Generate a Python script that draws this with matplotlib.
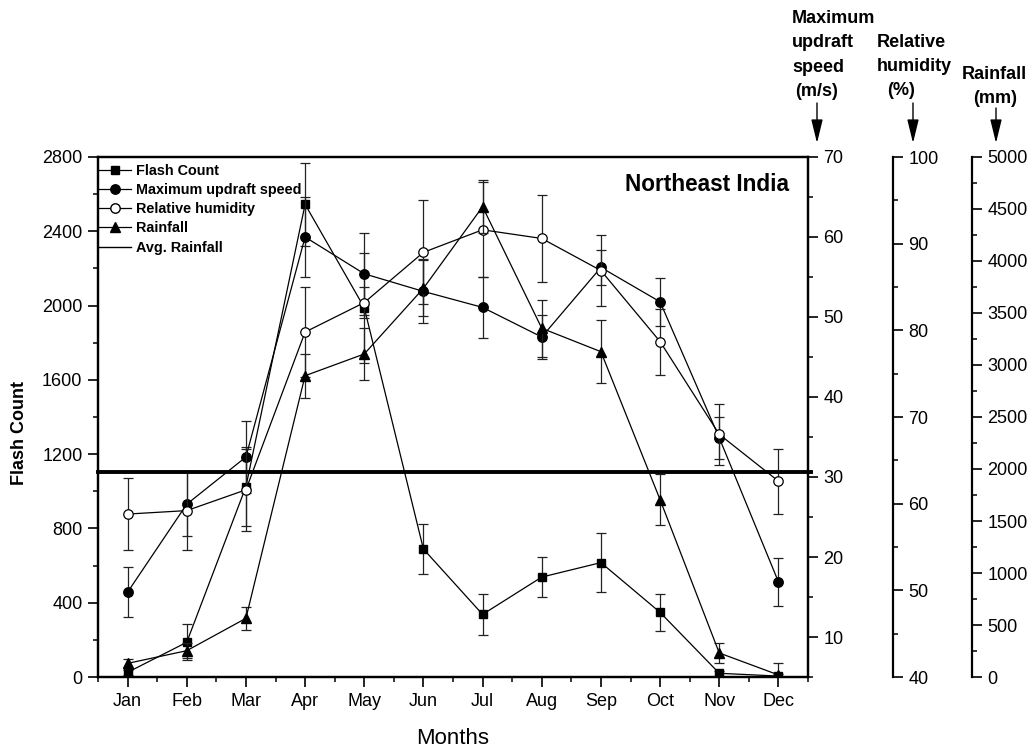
import numpy as np
import matplotlib
matplotlib.use("Agg")
import matplotlib.pyplot as plt
from matplotlib.lines import Line2D
from matplotlib.ticker import MultipleLocator

plt.rcParams['font.family'] = ['Liberation Sans', 'DejaVu Sans']

# ---------------- data ----------------
months = ['Jan', 'Feb', 'Mar', 'Apr', 'May', 'Jun', 'Jul', 'Aug', 'Sep', 'Oct', 'Nov', 'Dec']

flash_count = [25, 187, 1025, 2545, 1989, 689, 337, 538, 616, 348, 20, 5]
flash_err = [15, 98, 212, 225, 296, 137, 110, 107, 160, 98, 15, 10]

updraft = [15.6, 26.6, 32.5, 60.0, 55.4, 53.2, 51.2, 47.5, 56.2, 51.9, 34.9, 16.9]
updraft_err = [3.1, 4.0, 4.5, 5.0, 5.1, 4.0, 3.8, 2.8, 2.2, 3.0, 2.6, 3.0]

rel_humidity = [58.8, 59.2, 61.6, 79.8, 83.2, 89.0, 91.6, 90.6, 86.9, 78.7, 68.0, 62.6]
rh_err = [4.2, 4.6, 4.7, 5.2, 1.8, 6.0, 5.5, 5.0, 4.1, 3.8, 3.5, 3.75]

rainfall = [131, 253, 564, 2897, 3106, 3737, 4522, 3353, 3128, 1705, 231, 20]
rain_err = [45, 70, 109, 213, 250, 270, 257, 275, 305, 245, 97, 110]

avg_rainfall = 1975

flash_ticks = [0, 400, 800, 1200, 1600, 2000, 2400, 2800]
updraft_ticks = [10, 20, 30, 40, 50, 60, 70]
rh_ticks = [40, 50, 60, 70, 80, 90, 100]
rain_ticks = [0, 500, 1000, 1500, 2000, 2500, 3000, 3500, 4000, 4500, 5000]

# ---------------- figure ----------------
W, H = 1035, 752
fig = plt.figure(figsize=(W / 100, H / 100), dpi=100)
L, R, T, B = 98, 808, 157, 677
ax = fig.add_axes([L / W, 1 - B / H, (R - L) / W, (B - T) / H])

x = np.arange(1, len(months) + 1)

eb_kw = dict(color='k', lw=0.9, ecolor='#222222', elinewidth=0.9, capsize=3.6, capthick=0.9)

ax.errorbar(x, flash_count, yerr=flash_err, fmt='-s', ms=6.2, zorder=3, **eb_kw)

ax_up = ax.twinx()
ax_up.errorbar(x, updraft, yerr=updraft_err, fmt='-o', ms=6.8, zorder=3, **eb_kw)

ax_rh = ax.twinx()
ax_rh.spines['right'].set_position(('axes', (893 - L) / (R - L)))
ax_rh.errorbar(x, rel_humidity, yerr=rh_err, fmt='-o', ms=6.8, mfc='white', mec='k',
               mew=0.9, zorder=3, **eb_kw)

ax_rf = ax.twinx()
ax_rf.spines['right'].set_position(('axes', (972 - L) / (R - L)))
ax_rf.errorbar(x, rainfall, yerr=rain_err, fmt='-^', ms=7.8, zorder=3, **eb_kw)
ax_rf.axhline(avg_rainfall, xmin=0, xmax=1.004, color='k', lw=2.8, clip_on=False, zorder=4)

# limits
ax.set_xlim(0.5, 12.5)
ax.set_ylim(0, 2800)
ax_up.set_ylim(5, 70)
ax_rh.set_ylim(40, 100)
ax_rf.set_ylim(0, 5000)

# ticks
ax.set_xticks(x)
ax.set_xticklabels(months)
ax.xaxis.set_minor_locator(MultipleLocator(0.5))
ax.set_yticks(flash_ticks)
ax.yaxis.set_minor_locator(MultipleLocator(200))
ax_up.set_yticks(updraft_ticks)
ax_up.yaxis.set_minor_locator(MultipleLocator(5))
ax_rh.set_yticks(rh_ticks)
ax_rh.yaxis.set_minor_locator(MultipleLocator(5))
ax_rf.set_yticks(rain_ticks)
ax_rf.yaxis.set_minor_locator(MultipleLocator(250))

ax.xaxis.set_ticks_position('bottom')
ax.yaxis.set_ticks_position('left')

for a in (ax, ax_up, ax_rh, ax_rf):
    a.tick_params(which='major', direction='out', length=7.2, width=1.2, labelsize=13,
                  pad=4, colors='k')
    a.tick_params(which='minor', direction='out', length=3.8, width=1.1)
    for s in a.spines.values():
        s.set_linewidth(1.6)

for a in (ax_rh, ax_rf):
    for side in ('left', 'top', 'bottom'):
        a.spines[side].set_visible(False)

# labels
ax.set_ylabel('Flash Count', fontsize=13, fontweight='bold')
ax.yaxis.set_label_coords((28 - L) / (R - L), 0.47)
ax.set_xlabel('Months', fontsize=16)
ax.xaxis.set_label_coords(0.5, (B - 728) / (B - T))

ax.text((789 - L) / (R - L), (B - 185) / (B - T), 'Northeast India', transform=ax.transAxes,
        ha='right', va='center', fontsize=16.3, fontweight='bold')

# legend
handles = [
    Line2D([], [], color='k', lw=0.9, marker='s', ms=6.2),
    Line2D([], [], color='k', lw=0.9, marker='o', ms=6.8),
    Line2D([], [], color='k', lw=0.9, marker='o', ms=6.8, mfc='white'),
    Line2D([], [], color='k', lw=0.9, marker='^', ms=7.8),
    Line2D([], [], color='k', lw=1.0),
]
labels = ['Flash Count', 'Maximum updraft speed', 'Relative humidity', 'Rainfall', 'Avg. Rainfall']
leg = ax.legend(handles, labels, loc='upper left', bbox_to_anchor=(0.0, 0.987),
                frameon=False, borderpad=0.0, borderaxespad=0.0, handlelength=2.3,
                handletextpad=0.3, labelspacing=0.36, prop={'size': 10.4, 'weight': 'bold'})
leg.set_zorder(10)

# right axis titles with arrows
def ftext(px, py, s, **kw):
    fig.text(px / W, 1 - py / H, s, fontsize=13, fontweight='bold', ha='left', va='baseline', **kw)

ftext(792, 22.7, 'Maximum')
ftext(792, 46.7, 'updraft')
ftext(792, 71.7, 'speed')
ftext(795, 96.5, '(m/s)')
ftext(877, 46.7, 'Relative')
ftext(877, 70.7, 'humidity')
ftext(887, 95.0, '(%)')
ftext(962, 79.3, 'Rainfall')
ftext(973, 103.0, '(mm)')

arrow_kw = dict(arrowstyle='-|>,head_length=0.9,head_width=0.22', color='k', lw=1.0,
                mutation_scale=16, shrinkA=0, shrinkB=0)
for ax_x, y0 in ((817, 103), (913, 103), (996, 108)):
    fig.add_artist(matplotlib.patches.FancyArrowPatch(
        (ax_x / W, 1 - y0 / H), (ax_x / W, 1 - 143 / H), transform=fig.transFigure, **arrow_kw))

fig.savefig('out.png', dpi=100)
